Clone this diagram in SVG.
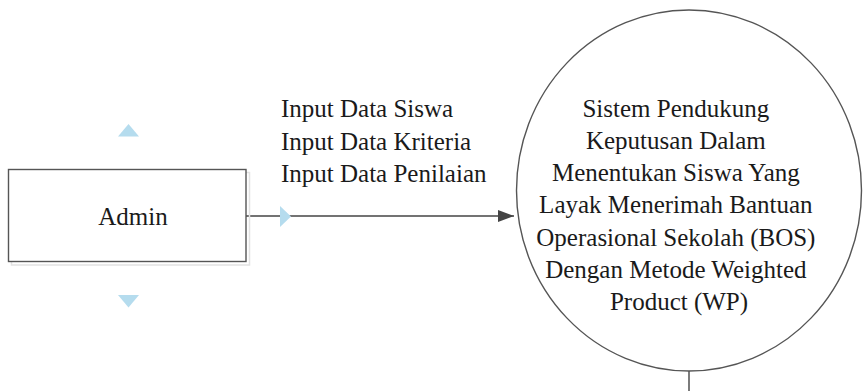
<svg xmlns="http://www.w3.org/2000/svg" width="867" height="391" viewBox="0 0 867 391">
  <defs>
    <style>
      .label { font-family: "Liberation Serif", "Times New Roman", serif; font-size: 25px; fill: #1a1a1a; }
      .shape { fill: #ffffff; stroke: #555555; stroke-width: 1.4; }
      .shadow { fill: none; stroke: #e2e2e2; stroke-width: 1.5; }
      .flow { fill: none; stroke: #444444; stroke-width: 1.4; }
      .handle { fill: #b5dcee; }
    </style>
    <marker id="arrow" viewBox="0 0 16 12" refX="16" refY="6" markerWidth="16" markerHeight="12" markerUnits="userSpaceOnUse" orient="auto">
      <path d="M0,0 L16,6 L0,12 Z" fill="#444444"/>
    </marker>
  </defs>

  <rect width="867" height="391" fill="#ffffff"/>

  <!-- connectors -->
  <g id="connectors">
    <line class="flow" x1="246" y1="216" x2="514" y2="216" marker-end="url(#arrow)"/>
    <line class="flow" x1="689" y1="371" x2="689" y2="391"/>
    <g id="flow-label">
      <text class="label" x="281" y="117">Input Data Siswa</text>
      <text class="label" x="281" y="149.5">Input Data Kriteria</text>
      <text class="label" x="281" y="182">Input Data Penilaian</text>
    </g>
  </g>

  <!-- external entity -->
  <g id="admin">
    <rect class="shadow" x="11.5" y="172.5" width="238" height="92.5"/>
    <rect class="shape" x="8.5" y="169.5" width="237.5" height="92"/>
    <text class="label" x="133" y="225" text-anchor="middle">Admin</text>
  </g>

  <!-- selection handles -->
  <g id="handles">
    <polygon class="handle" points="118,136.5 139,136.5 128.5,124"/>
    <polygon class="handle" points="118,295 139,295 128.5,307.5"/>
    <polygon class="handle" points="280,206 291,216.5 280,227"/>
  </g>

  <!-- process -->
  <g id="process">
    <ellipse class="shape" cx="689" cy="190.5" rx="172.5" ry="180.5"/>
    <text class="label" text-anchor="middle">
      <tspan x="679" y="116.5">Sistem Pendukung</tspan>
      <tspan x="679" y="148.8">Keputusan Dalam</tspan>
      <tspan x="679" y="181.1">Menentukan Siswa Yang</tspan>
      <tspan x="679" y="213.4">Layak Menerimah Bantuan</tspan>
      <tspan x="679" y="245.7">Operasional Sekolah (BOS)</tspan>
      <tspan x="679" y="278">Dengan Metode Weighted</tspan>
      <tspan x="679" y="310.3">Product (WP)</tspan>
    </text>
  </g>
</svg>
